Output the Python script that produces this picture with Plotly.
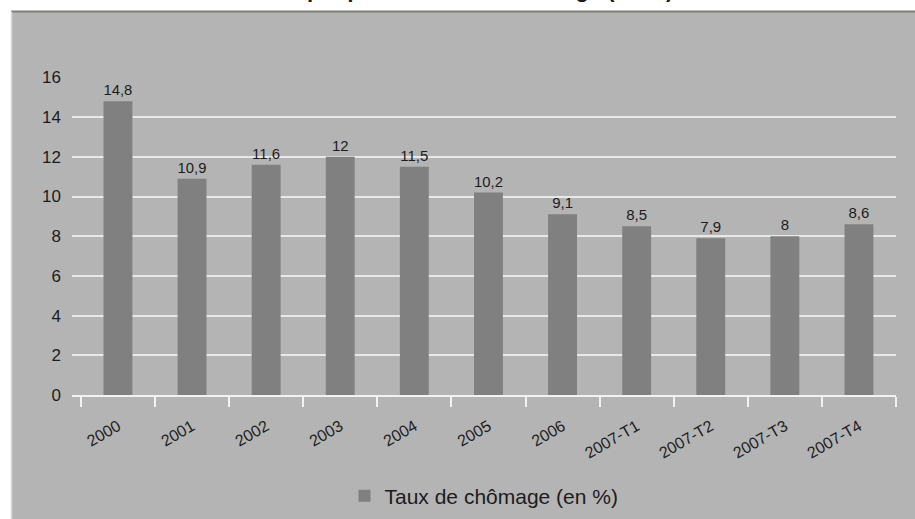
import plotly.graph_objects as go

categories = ["2000", "2001", "2002", "2003", "2004", "2005", "2006",
              "2007-T1", "2007-T2", "2007-T3", "2007-T4"]
values = [14.8, 10.9, 11.6, 12, 11.5, 10.2, 9.1, 8.5, 7.9, 8, 8.6]
series_name = "Taux de chômage (en %)"
title_text = "Graphique 1 : Taux de chômage (en %)"
y_ticks = [0, 2, 4, 6, 8, 10, 12, 14, 16]

labels = [f"{v:g}".replace(".", ",") for v in values]

FONT = "Liberation Sans, Arial, sans-serif"
TXT = "#1c1c1c"
PANEL = "#b4b4b4"

W, H = 915, 519
L, R, T, B = 72, 19, 77, 124
pw, ph = W - L - R, H - T - B


def px(x):
    return (x - L) / pw


def py(y):
    return (H - B - y) / ph


fig = go.Figure()
fig.add_trace(go.Bar(
    x=categories, y=values, name=series_name,
    marker=dict(color="#808080", line=dict(width=0)),
    width=0.39,
    text=labels, textposition="outside",
    textfont=dict(family=FONT, size=15, color=TXT),
    cliponaxis=False,
    showlegend=True,
))

fig.update_layout(
    width=W, height=H,
    margin=dict(l=L, r=R, t=T, b=B, autoexpand=False),
    paper_bgcolor="white",
    plot_bgcolor=PANEL,
    font=dict(family=FONT, color=TXT),
    showlegend=True,
    legend=dict(orientation="h", x=0.5, xanchor="center",
                xref="paper", yref="container",
                y=1 - 496 / H, yanchor="middle",
                font=dict(family=FONT, size=21, color=TXT),
                bgcolor="rgba(0,0,0,0)", itemwidth=30),
    xaxis=dict(
        type="category", range=[-0.62, 10.5], automargin=False,
        showgrid=False, showline=True, linecolor="#f2f2f2", linewidth=2,
        ticks="outside", tickson="boundaries", ticklen=10, tickwidth=2,
        tickcolor="#f2f2f2", tickangle=-30, ticklabelstandoff=14,
        tickfont=dict(family=FONT, size=16, color=TXT),
    ),
    yaxis=dict(
        range=[0, 16.02], tickvals=y_ticks, showgrid=True, automargin=False,
        gridcolor="#e8e8e8", gridwidth=2, zeroline=False,
        showline=False, ticks="", ticklabelstandoff=10,
        tickfont=dict(family=FONT, size=17, color=TXT),
    ),
    shapes=[
        dict(type="rect", xref="paper", yref="paper", layer="below",
             x0=px(11), x1=px(930), y0=py(530), y1=py(11.5),
             fillcolor=PANEL, line=dict(width=0)),
        dict(type="line", xref="paper", yref="paper", layer="below",
             x0=px(11), x1=px(930), y0=py(11.5), y1=py(11.5),
             line=dict(color="#7d7d76", width=2)),
        dict(type="line", xref="paper", yref="paper", layer="below",
             x0=px(11.5), x1=px(11.5), y0=py(530), y1=py(11.5),
             line=dict(color="#d8d8d8", width=1.5)),
    ],
    annotations=[
        dict(text="<b>" + title_text + "</b>", xref="paper", yref="paper",
             x=px(471), y=py(-10.5), xanchor="center", yanchor="middle",
             showarrow=False, font=dict(family=FONT, size=22, color=TXT)),
    ],
)

fig.write_html("out.html")
